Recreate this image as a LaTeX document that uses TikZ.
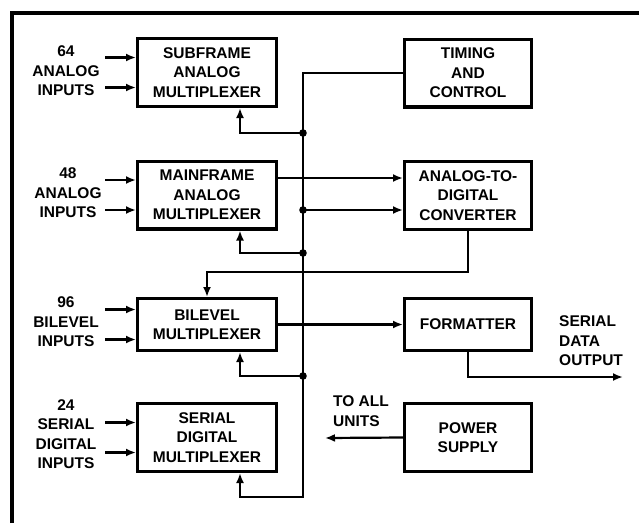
\documentclass[tikz,border=0pt]{standalone}
\usepackage{fontspec}
\setmainfont{Liberation Sans}
\usetikzlibrary{arrows.meta,positioning}

\begin{document}
\begin{tikzpicture}[
  x=1pt, y=-1pt,
  font=\fontsize{15.5}{19.5}\selectfont\bfseries,
  box/.style={draw, line width=3.2pt, align=center, inner sep=0pt,
    minimum height=67.8pt},
  mux/.style={box, minimum width=138.8pt},
  unit/.style={box, minimum width=126.8pt},
  wire/.style={line width=2.2pt},
  arrow/.style={wire, -{Latex[length=10pt,width=8pt]}},
  inlabel/.style={align=center, inner sep=0pt},
  outlabel/.style={align=left, anchor=west, inner sep=0pt}
]
\useasboundingbox (0,0) rectangle (639,523);
\draw[line width=3.4pt] (12,523) -- (12,13) -- (639,13);

\node[mux] (subframe) at (207,72.5) {SUBFRAME\\ANALOG\\MULTIPLEXER};
\node[mux] (mainframe) at (207,195) {MAINFRAME\\ANALOG\\MULTIPLEXER};
\node[mux, minimum height=51.8pt] (bilevel) at (207,324.5) {BILEVEL\\MULTIPLEXER};
\node[mux] (serial) at (207,437.5) {SERIAL\\DIGITAL\\MULTIPLEXER};

\node[unit] (timing) at (468,73) {TIMING\\AND\\CONTROL};
\node[unit] (adc) at (468,195.5) {ANALOG-TO-\\DIGITAL\\CONVERTER};
\node[unit, minimum height=51.8pt] (formatter) at (468,324.5) {FORMATTER};
\node[unit] (power) at (468,437.5) {POWER\\SUPPLY};

\node[inlabel] (in64) at (66,71) {64\\ANALOG\\INPUTS};
\node[inlabel] (in48) at (68,193) {48\\ANALOG\\INPUTS};
\node[inlabel] (in96) at (66,322) {96\\BILEVEL\\INPUTS};
\node[inlabel] (in24) at (66,434) {24\\SERIAL\\DIGITAL\\INPUTS};
\node[outlabel] (sdo) at (559,341) {SERIAL\\DATA\\OUTPUT};
\node[outlabel] (tau) at (333,411) {TO ALL\\UNITS};

\coordinate (j1) at (303,133);
\coordinate (j2) at (303,210);
\coordinate (j3) at (303,253);
\coordinate (j4) at (303,376);
\coordinate (busend) at (303,497);
\coordinate (mfout) at ([yshift=17pt]mainframe.east);
\coordinate (dataout) at (623,377);
\coordinate (allunits) at (325,438);

% inputs
\foreach \b in {subframe,mainframe,bilevel,serial} {
  \draw[arrow] ([shift={(-31,-15)}]\b.west) -- ([yshift=15pt]\b.west);
  \draw[arrow] ([shift={(-31,15)}]\b.west) -- ([yshift=-15pt]\b.west);
}

% control bus
\draw[arrow] (timing.west) -| (busend) -| ([xshift=33pt]serial.south);
\draw[arrow] (j1) -| ([xshift=33pt]subframe.south);
\draw[arrow] (j3) -| ([xshift=33pt]mainframe.south);
\draw[arrow] (j4) -| ([xshift=33pt]bilevel.south);
\draw[arrow] (j2) -- (j2 -| adc.west);
\foreach \j in {j1,j2,j3,j4}
  \fill (\j) circle (3.8pt);

% data path
\draw[arrow] (mfout) -- (mfout -| adc.west);
\draw[arrow] (adc.south) -- ++(0,41) -| (bilevel.north);
\draw[arrow] (bilevel.east) -- (formatter.west);
\draw[arrow] (formatter.south) |- (dataout);
\draw[arrow] (power.west) -- (allunits);
\end{tikzpicture}
\end{document}
